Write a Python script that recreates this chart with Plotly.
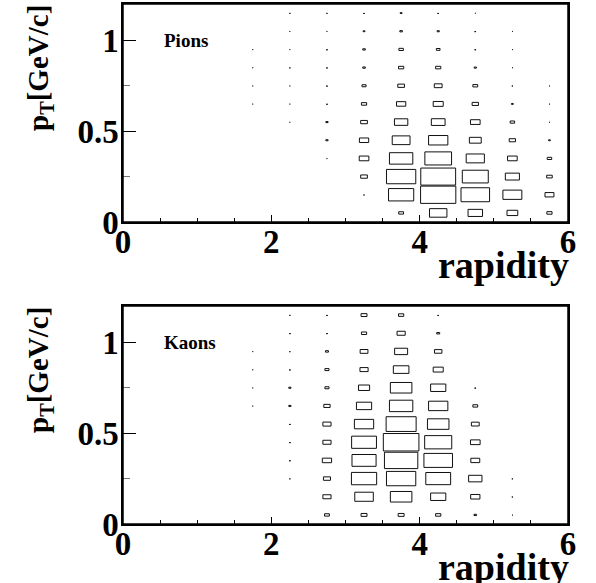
import plotly.graph_objects as go

# bin layout
x_centers = [1.75, 2.25, 2.75, 3.25, 3.75, 4.25, 4.75, 5.25, 5.75]
y_centers = [0.05, 0.15, 0.25, 0.35, 0.45, 0.55, 0.65, 0.75, 0.85, 0.95, 1.05, 1.15]
x_bin_width = 0.5
y_bin_width = 0.1

# relative box size (content / max), rows = pT bins (bottom -> top), cols = rapidity bins
pions = [
    [0.00, 0.00, 0.00, 0.00, 0.13, 0.47, 0.39, 0.29, 0.14],
    [0.00, 0.00, 0.00, 0.03, 0.68, 0.95, 0.77, 0.51, 0.24],
    [0.00, 0.00, 0.00, 0.18, 0.79, 0.94, 0.70, 0.38, 0.15],
    [0.00, 0.00, 0.02, 0.26, 0.63, 0.72, 0.49, 0.26, 0.12],
    [0.00, 0.00, 0.06, 0.25, 0.48, 0.52, 0.32, 0.17, 0.05],
    [0.00, 0.02, 0.06, 0.18, 0.36, 0.37, 0.26, 0.12, 0.02],
    [0.02, 0.02, 0.04, 0.14, 0.25, 0.27, 0.17, 0.05, 0.02],
    [0.02, 0.02, 0.04, 0.11, 0.18, 0.21, 0.13, 0.03, 0.02],
    [0.02, 0.03, 0.04, 0.07, 0.14, 0.14, 0.06, 0.02, 0.00],
    [0.02, 0.02, 0.04, 0.07, 0.12, 0.10, 0.04, 0.02, 0.00],
    [0.00, 0.02, 0.02, 0.05, 0.07, 0.06, 0.04, 0.02, 0.00],
    [0.00, 0.03, 0.03, 0.04, 0.05, 0.04, 0.02, 0.00, 0.00],
]
kaons = [
    [0.00, 0.00, 0.13, 0.16, 0.16, 0.14, 0.07, 0.02, 0.00],
    [0.00, 0.00, 0.22, 0.50, 0.58, 0.41, 0.25, 0.03, 0.00],
    [0.00, 0.03, 0.19, 0.68, 0.79, 0.67, 0.36, 0.03, 0.00],
    [0.00, 0.04, 0.25, 0.65, 0.90, 0.77, 0.24, 0.00, 0.00],
    [0.00, 0.04, 0.22, 0.67, 0.96, 0.73, 0.26, 0.00, 0.00],
    [0.00, 0.04, 0.22, 0.52, 0.81, 0.58, 0.21, 0.00, 0.00],
    [0.02, 0.06, 0.17, 0.41, 0.63, 0.52, 0.13, 0.00, 0.00],
    [0.02, 0.06, 0.11, 0.30, 0.58, 0.41, 0.04, 0.00, 0.00],
    [0.02, 0.04, 0.11, 0.22, 0.42, 0.27, 0.00, 0.00, 0.00],
    [0.02, 0.03, 0.08, 0.21, 0.35, 0.20, 0.00, 0.00, 0.00],
    [0.00, 0.04, 0.04, 0.14, 0.22, 0.08, 0.00, 0.00, 0.00],
    [0.00, 0.03, 0.04, 0.16, 0.14, 0.04, 0.00, 0.00, 0.00],
]
labels = ["Pions", "Kaons"]

FONT = "Liberation Serif"


def box_path(matrix):
    xs, ys = [], []
    for j, yc in enumerate(y_centers):
        for i, xc in enumerate(x_centers):
            f = matrix[j][i]
            if f <= 0:
                continue
            hx = 0.5 * x_bin_width * f
            hy = 0.5 * y_bin_width * f
            xs += [xc - hx, xc + hx, xc + hx, xc - hx, xc - hx, None]
            ys += [yc - hy, yc - hy, yc + hy, yc + hy, yc - hy, None]
    return xs, ys


fig = go.Figure()
for mat, xa, ya in [(pions, "x", "y"), (kaons, "x2", "y2")]:
    xs, ys = box_path(mat)
    fig.add_trace(go.Scatter(x=xs, y=ys, mode="lines", xaxis=xa, yaxis=ya,
                             line=dict(color="#111111", width=1),
                             hoverinfo="skip", showlegend=False))

xdom = [123 / 596, 568 / 596]
ydoms = [[1 - 222 / 583, 1 - 4 / 583], [1 - 524 / 583, 1 - 306 / 583]]

tickfont = dict(family=FONT, size=33, color="black")
xaxis_common = dict(range=[0, 6], domain=xdom, showline=True, linecolor="black", linewidth=1.5,
                    mirror=True, ticks="inside", ticklen=7, tickwidth=1, tickcolor="black",
                    tickmode="linear", tick0=0, dtick=2, tickfont=tickfont,
                    ticklabelstandoff=-10,
                    showgrid=False, zeroline=False, layer="above traces",
                    minor=dict(dtick=0.5, ticks="inside", ticklen=4, tickcolor="black",
                               showgrid=False))
yaxis_common = dict(range=[0, 1.2], showline=True, linecolor="black", linewidth=1.5,
                    mirror=True, ticks="inside", ticklen=13, tickwidth=1, tickcolor="black",
                    tickmode="linear", tick0=0, dtick=0.5, tickfont=tickfont,
                    ticklabelstandoff=-4,
                    showgrid=False, zeroline=False, layer="above traces",
                    minor=dict(dtick=0.25, ticks="inside", ticklen=7, tickcolor="#777777",
                               showgrid=False))

fig.update_layout(
    width=596, height=583, margin=dict(l=0, r=0, t=0, b=0, autoexpand=False),
    paper_bgcolor="white", plot_bgcolor="white",
    font=dict(family=FONT, color="black"),
    xaxis=dict(**xaxis_common, anchor="y"),
    yaxis=dict(**yaxis_common, domain=ydoms[0], anchor="x"),
    xaxis2=dict(**xaxis_common, anchor="y2"),
    yaxis2=dict(**yaxis_common, domain=ydoms[1], anchor="x2"),
)

# plot frames (pad borders)
for xr, yr in [("x domain", "y domain"), ("x2 domain", "y2 domain")]:
    fig.add_shape(type="rect", xref=xr, yref=yr, x0=0, x1=1, y0=0, y1=1,
                  line=dict(color="black", width=1.5), fillcolor="rgba(0,0,0,0)", layer="above")

for k in range(2):
    top = ydoms[k][1]
    bottom = ydoms[k][0]
    fig.add_annotation(text="<b>p<sub>T</sub>[GeV/c]</b>", textangle=-90, xref="paper", yref="paper",
                       x=40 / 596, y=top + 1 / 583, xanchor="center", yanchor="top", showarrow=False,
                       font=dict(family=FONT, size=29, color="black"))
    fig.add_annotation(text="<b>rapidity</b>", xref="paper", yref="paper",
                       x=571 / 596, y=bottom - 43 / 583, xanchor="right", yanchor="middle",
                       showarrow=False,
                       font=dict(family=FONT, size=38, color="black"))
    fig.add_annotation(text="<b>" + labels[k] + "</b>", xref="x" if k == 0 else "x2",
                       yref="y" if k == 0 else "y2",
                       x=0.52, y=1.0, xanchor="left", yanchor="middle", showarrow=False,
                       font=dict(family=FONT, size=19, color="black"))

fig.update_xaxes(tickprefix="<b>", ticksuffix="</b>")
fig.update_yaxes(tickprefix="<b>", ticksuffix="</b>")

fig.write_html("out.html", config={"displayModeBar": False},
               post_script="document.body.style.margin='0px';")
